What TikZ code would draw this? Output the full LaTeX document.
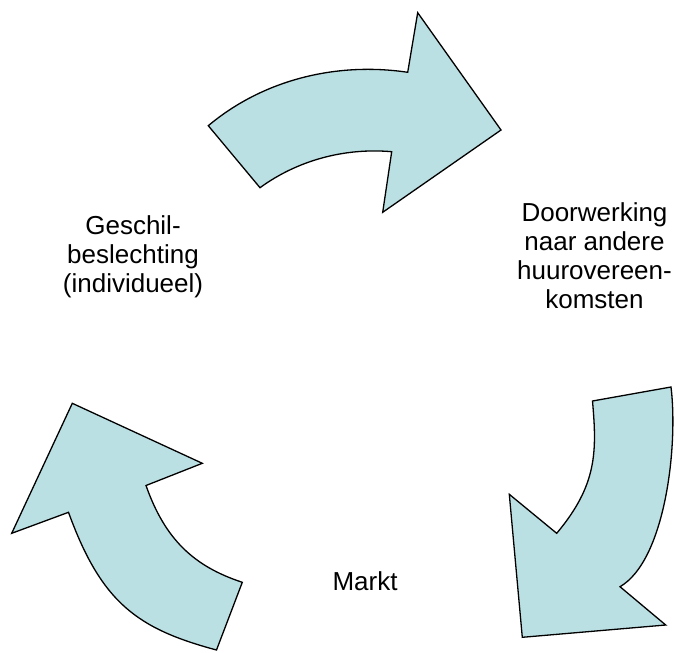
\documentclass[tikz,border=0pt]{standalone}
\usepackage{fontspec}
\setmainfont{Liberation Sans}
\definecolor{arrowfill}{RGB}{187,224,227}
\tikzset{
  blockarrow/.style={draw=black, fill=arrowfill, line width=1.3pt, line join=miter},
  label/.style={inner sep=0pt, align=center, font=\fontsize{26}{29}\selectfont}
}
\begin{document}
\begin{tikzpicture}[x=1pt, y=-1pt]
\useasboundingbox (0,0) rectangle (675,653);
% top arrow
\draw[blockarrow] (208.3,125.7)
  .. controls (263.2,79.6) and (336.8,61.7) .. (407.7,72.3)
  -- (417.7,12.7) -- (501,130) -- (382.7,212.3) -- (391.7,151.7)
  .. controls (345,147.6) and (297.9,160.1) .. (260,187.7) -- cycle;
% right arrow
\draw[blockarrow] (592.5,401) -- (671,387)
  .. controls (678.3,446.7) and (665,560.7) .. (620,586.7)
  -- (665.7,625) -- (522.3,637.3) -- (509.3,494.3) -- (556.7,533.3)
  .. controls (597.3,484.9) and (596.9,451.7) .. (592.5,401) -- cycle;
% left arrow
\draw[blockarrow] (216.5,650) -- (242.3,582.3)
  .. controls (193.7,566.3) and (165,539.3) .. (146,485.5)
  -- (202.3,463.3) -- (72.3,403.3) -- (11.7,533.3) -- (68.5,512.3)
  .. controls (101.3,602.5) and (137,628.7) .. (216.5,650) -- cycle;
% labels
\node[label, anchor=north] (geschil) at (133,215.5) {Geschil-\\beslechting\\(individueel)};
\node[label, anchor=north] (doorwerking) at (594.5,202.8) {Doorwerking\\naar andere\\huurovereen-\\komsten};
\node[label, anchor=base] (markt) at (365,590) {Markt};
\end{tikzpicture}
\end{document}
